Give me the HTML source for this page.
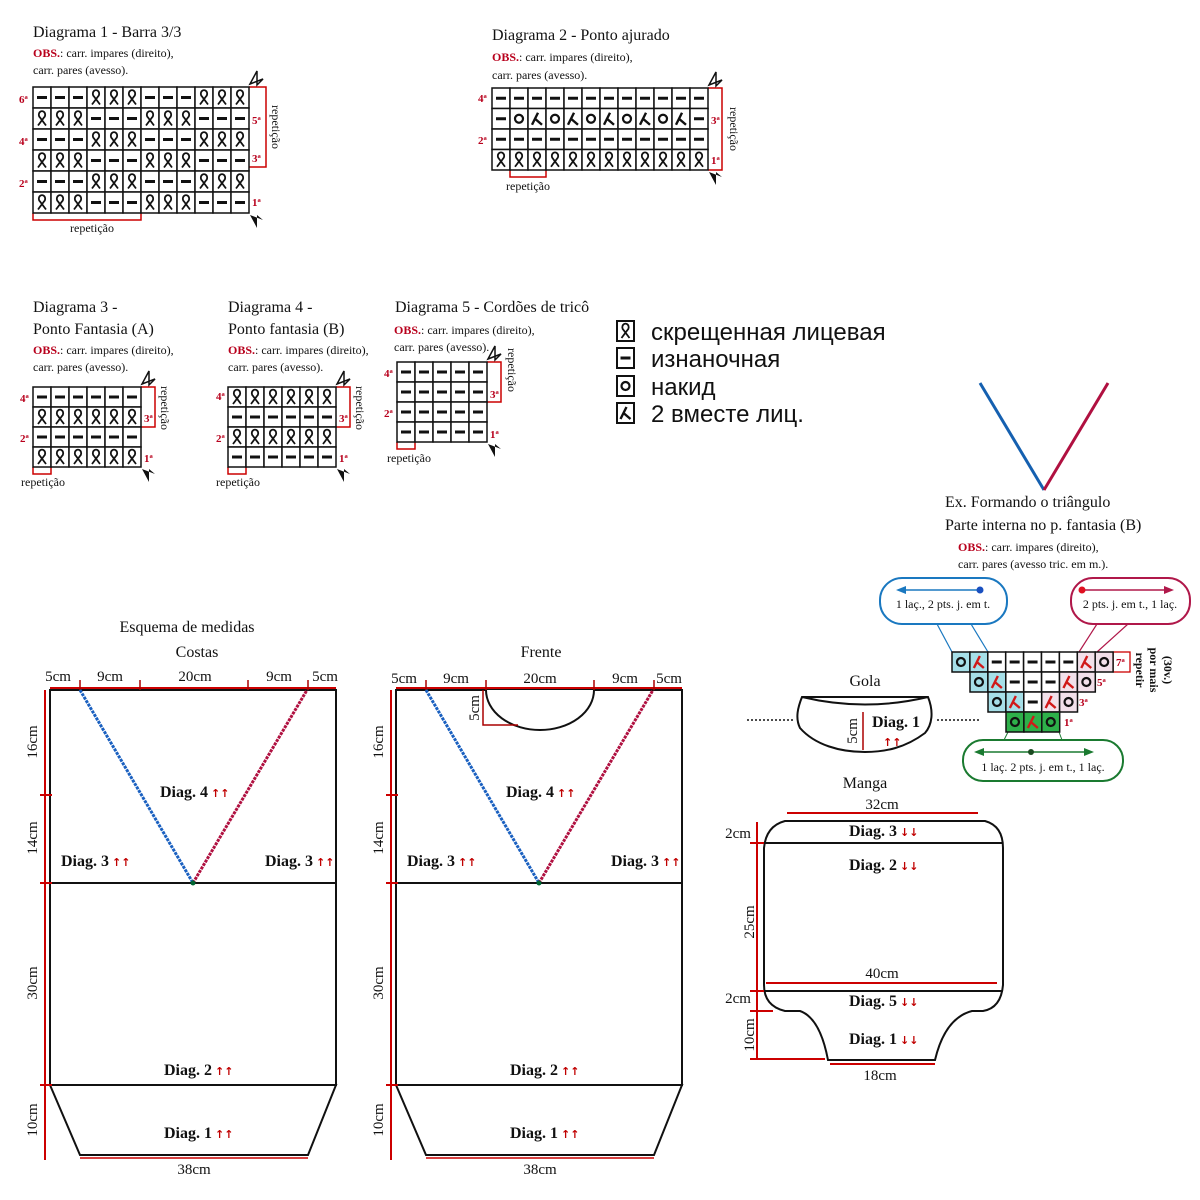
<!DOCTYPE html>
<html><head><meta charset="utf-8"><style>
body{margin:0;background:#fff}
svg{display:block}
text{font-family:"Liberation Serif",serif;fill:#111}
.t{font-size:16px}
.o{font-size:12px}
.r{fill:#b8001c}
.lb{font-size:11px;font-weight:bold;fill:#b8001c}
.d{font-size:16px;font-weight:bold}
.ar{font-family:"DejaVu Sans",sans-serif;font-size:11px;fill:#c00000;font-weight:bold}
.ru{font-family:"Liberation Sans",sans-serif;font-size:24px}
.cm{font-size:15px}
</style></head><body>
<svg id="s" width="1200" height="1200" viewBox="0 0 1200 1200" xmlns="http://www.w3.org/2000/svg">
<text x="33" y="37" class="t">Diagrama 1 - Barra 3/3</text>
<text x="33" y="57" class="o"><tspan class="r" font-weight="bold">OBS.</tspan>: carr. impares (direito),</text>
<text x="33" y="74" class="o">carr. pares (avesso).</text>
<text x="19" y="103" class="lb">6ª</text><text x="19" y="145" class="lb">4ª</text><text x="19" y="187" class="lb">2ª</text>
<text x="252" y="124" class="lb">5ª</text><text x="252" y="162" class="lb">3ª</text><text x="252" y="206" class="lb">1ª</text>
<polyline points="249,87 266,87 266,167 249,167" fill="none" stroke="#c00" stroke-width="1.5"/>
<text transform="translate(272,127) rotate(90)" class="o" text-anchor="middle">repetição</text>
<polyline points="33,213 33,220 141,220 141,213" fill="none" stroke="#c00" stroke-width="1.5"/>
<text x="92" y="232" class="o" text-anchor="middle">repetição</text>

<text x="492" y="40" class="t">Diagrama 2 - Ponto ajurado</text>
<text x="492" y="61" class="o"><tspan class="r" font-weight="bold">OBS.</tspan>: carr. impares (direito),</text>
<text x="492" y="79" class="o">carr. pares (avesso).</text>
<text x="478" y="102" class="lb">4ª</text><text x="478" y="144" class="lb">2ª</text>
<text x="711" y="124" class="lb">3ª</text><text x="711" y="164" class="lb">1ª</text>
<polyline points="708,88 722,88 722,170 708,170" fill="none" stroke="#c00" stroke-width="1.5"/>
<text transform="translate(730,129) rotate(90)" class="o" text-anchor="middle">repetição</text>
<polyline points="510,170 510,177 546,177 546,170" fill="none" stroke="#c00" stroke-width="1.5"/>
<text x="528" y="190" class="o" text-anchor="middle">repetição</text>

<text x="33" y="312" class="t">Diagrama 3 -</text>
<text x="33" y="334" class="t">Ponto Fantasia (A)</text>
<text x="33" y="354" class="o"><tspan class="r" font-weight="bold">OBS.</tspan>: carr. impares (direito),</text>
<text x="33" y="371" class="o">carr. pares (avesso).</text>
<text x="20" y="402" class="lb">4ª</text><text x="20" y="442" class="lb">2ª</text>
<text x="144" y="422" class="lb">3ª</text><text x="144" y="462" class="lb">1ª</text>
<polyline points="141,387 155,387 155,427 141,427" fill="none" stroke="#c00" stroke-width="1.5"/>
<text transform="translate(161,408) rotate(90)" class="o" text-anchor="middle">repetição</text>
<polyline points="33,467 33,474 51,474 51,467" fill="none" stroke="#c00" stroke-width="1.5"/>
<text x="21" y="486" class="o">repetição</text>

<text x="228" y="312" class="t">Diagrama 4 -</text>
<text x="228" y="334" class="t">Ponto fantasia (B)</text>
<text x="228" y="354" class="o"><tspan class="r" font-weight="bold">OBS.</tspan>: carr. impares (direito),</text>
<text x="228" y="371" class="o">carr. pares (avesso).</text>
<text x="216" y="400" class="lb">4ª</text><text x="216" y="442" class="lb">2ª</text>
<text x="339" y="422" class="lb">3ª</text><text x="339" y="462" class="lb">1ª</text>
<polyline points="336,387 350,387 350,427 336,427" fill="none" stroke="#c00" stroke-width="1.5"/>
<text transform="translate(356,408) rotate(90)" class="o" text-anchor="middle">repetição</text>
<polyline points="228,467 228,474 246,474 246,467" fill="none" stroke="#c00" stroke-width="1.5"/>
<text x="216" y="486" class="o">repetição</text>

<text x="395" y="312" class="t">Diagrama 5 - Cordões de tricô</text>
<text x="394" y="334" class="o"><tspan class="r" font-weight="bold">OBS.</tspan>: carr. impares (direito),</text>
<text x="394" y="351" class="o">carr. pares (avesso).</text>
<text x="384" y="377" class="lb">4ª</text><text x="384" y="417" class="lb">2ª</text>
<text x="490" y="398" class="lb">3ª</text><text x="490" y="438" class="lb">1ª</text>
<polyline points="487,362 501,362 501,402 487,402" fill="none" stroke="#c00" stroke-width="1.5"/>
<text transform="translate(508,370) rotate(90)" class="o" text-anchor="middle">repetição</text>
<polyline points="397,442 397,449 415,449 415,442" fill="none" stroke="#c00" stroke-width="1.5"/>
<text x="387" y="462" class="o">repetição</text>

<text x="651" y="340" class="ru">скрещенная лицевая</text>
<text x="651" y="367" class="ru">изнаночная</text>
<text x="651" y="395" class="ru">накид</text>
<text x="651" y="422" class="ru">2 вместе лиц.</text>

<line x1="980" y1="383" x2="1044" y2="490" stroke="#1560b0" stroke-width="3"/>
<line x1="1044" y1="490" x2="1108" y2="383" stroke="#b01040" stroke-width="3"/>
<text x="945" y="507" class="t">Ex. Formando o triângulo</text>
<text x="945" y="530" class="t">Parte interna no p. fantasia (B)</text>
<text x="958" y="551" class="o"><tspan class="r" font-weight="bold">OBS.</tspan>: carr. impares (direito),</text>
<text x="958" y="568" class="o">carr. pares (avesso tric. em m.).</text>

<rect x="880" y="578" width="127" height="46" rx="22" fill="#fff" stroke="#1a78c0" stroke-width="2"/>
<line x1="980" y1="590" x2="900" y2="590" stroke="#1a78c0" stroke-width="1.5"/><polygon points="896,590 906,586 906,594" fill="#1a78c0"/><circle cx="980" cy="590" r="3.5" fill="#1a50c0"/>
<text x="943" y="608" class="o" text-anchor="middle">1 laç., 2 pts. j. em t.</text>
<line x1="937" y1="624" x2="952" y2="652" stroke="#1a78c0" stroke-width="1.2"/><line x1="971" y1="624" x2="988" y2="652" stroke="#1a78c0" stroke-width="1.2"/>
<rect x="1071" y="578" width="119" height="46" rx="22" fill="#fff" stroke="#b0184a" stroke-width="2"/>
<line x1="1082" y1="590" x2="1168" y2="590" stroke="#b0184a" stroke-width="1.5"/><polygon points="1174,590 1164,586 1164,594" fill="#b0184a"/><circle cx="1082" cy="590" r="3.5" fill="#e01020"/>
<text x="1130" y="608" class="o" text-anchor="middle">2 pts. j. em t., 1 laç.</text>
<line x1="1097" y1="624" x2="1079" y2="652" stroke="#b0184a" stroke-width="1.2"/><line x1="1128" y1="624" x2="1097" y2="652" stroke="#b0184a" stroke-width="1.2"/>
<rect x="963" y="740" width="160" height="41" rx="20" fill="#fff" stroke="#1a7a30" stroke-width="2"/>
<line x1="978" y1="752" x2="1090" y2="752" stroke="#1a7a30" stroke-width="1.5"/><polygon points="974,752 984,748 984,756" fill="#1a7a30"/><polygon points="1094,752 1084,748 1084,756" fill="#1a7a30"/><circle cx="1031" cy="752" r="3" fill="#1a4a20"/>
<text x="1043" y="771" class="o" text-anchor="middle">1 laç. 2 pts. j. em t., 1 laç.</text>
<line x1="1008" y1="732" x2="1004" y2="740" stroke="#1a7a30"/><line x1="1059" y1="732" x2="1062" y2="740" stroke="#1a7a30"/>
<rect x="1113" y="652" width="17" height="20" fill="none" stroke="#c00" stroke-width="1.3"/>
<text x="1116" y="666" class="lb">7ª</text><text x="1097" y="686" class="lb">5ª</text><text x="1079" y="706" class="lb">3ª</text><text x="1064" y="726" class="lb">1ª</text>
<text transform="translate(1136,670) rotate(90)" class="o" text-anchor="middle" font-weight="bold">repetir</text>
<text transform="translate(1150,670) rotate(90)" class="o" text-anchor="middle" font-weight="bold">por mais</text>
<text transform="translate(1164,670) rotate(90)" class="o" text-anchor="middle" font-weight="bold">(30v.)</text>

<text x="865" y="686" class="t" text-anchor="middle">Gola</text>
<path d="M802,697 L928,697 C934,712 932,725 925,733 C905,748 885,752 865,752 C840,752 815,745 800,728 C795,718 798,707 802,697 Z" fill="#fff" stroke="#111" stroke-width="2"/>
<path d="M802,697 Q865,712 928,697" fill="none" stroke="#111" stroke-width="2"/>
<line x1="747" y1="720" x2="795" y2="720" stroke="#111" stroke-width="1.5" stroke-dasharray="2,2"/>
<line x1="937" y1="720" x2="980" y2="720" stroke="#111" stroke-width="1.5" stroke-dasharray="2,2"/>
<line x1="863" y1="712" x2="863" y2="750" stroke="#a00" stroke-width="1.5"/>
<text transform="translate(857,731) rotate(-90)" class="cm" text-anchor="middle">5cm</text>
<text x="872" y="727" class="d">Diag. 1</text><text x="883" y="746" class="ar">↑↑</text>

<text x="865" y="788" class="t" text-anchor="middle">Manga</text>
<text x="882" y="809" class="cm" text-anchor="middle">32cm</text>
<line x1="787" y1="813" x2="978" y2="813" stroke="#c00" stroke-width="2"/>
<path d="M785,821 L985,821 Q1003,826 1003,848 L1003,985 Q1001,1008 983,1011 L972,1011 Q945,1018 935,1060 L828,1060 Q820,1018 800,1011 L785,1011 Q764,1006 764,985 L764,848 Q766,826 785,821 Z" fill="#fff" stroke="#111" stroke-width="2"/>
<line x1="764" y1="843" x2="1003" y2="843" stroke="#111" stroke-width="2"/>
<line x1="766" y1="983" x2="997" y2="983" stroke="#c00" stroke-width="2"/>
<line x1="764" y1="991" x2="1003" y2="991" stroke="#111" stroke-width="2"/>
<text x="882" y="978" class="cm" text-anchor="middle">40cm</text>
<line x1="757" y1="822" x2="757" y2="1060" stroke="#c00" stroke-width="2"/>
<line x1="750" y1="843" x2="764" y2="843" stroke="#c00" stroke-width="2"/>
<line x1="750" y1="991" x2="764" y2="991" stroke="#c00" stroke-width="2"/>
<line x1="750" y1="1011" x2="773" y2="1011" stroke="#c00" stroke-width="2"/>
<line x1="750" y1="1059" x2="825" y2="1059" stroke="#c00" stroke-width="2"/>
<line x1="830" y1="1064" x2="935" y2="1064" stroke="#c00" stroke-width="2"/>
<text x="738" y="838" class="cm" text-anchor="middle">2cm</text>
<text x="738" y="1003" class="cm" text-anchor="middle">2cm</text>
<text transform="translate(754,922) rotate(-90)" class="cm" text-anchor="middle">25cm</text>
<text transform="translate(754,1035) rotate(-90)" class="cm" text-anchor="middle">10cm</text>
<text x="880" y="1080" class="cm" text-anchor="middle">18cm</text>
<text x="849" y="836" class="d">Diag. 3</text><text x="900" y="836" class="ar">↓↓</text>
<text x="849" y="870" class="d">Diag. 2</text><text x="900" y="870" class="ar">↓↓</text>
<text x="849" y="1006" class="d">Diag. 5</text><text x="900" y="1006" class="ar">↓↓</text>
<text x="849" y="1044" class="d">Diag. 1</text><text x="900" y="1044" class="ar">↓↓</text>

<text x="187" y="632" class="t" text-anchor="middle">Esquema de medidas</text>
<text x="197" y="657" class="t" text-anchor="middle">Costas</text>
<text x="541" y="657" class="t" text-anchor="middle">Frente</text>

<text x="58" y="681" class="cm" text-anchor="middle">5cm</text>
<text x="110" y="681" class="cm" text-anchor="middle">9cm</text>
<text x="195" y="681" class="cm" text-anchor="middle">20cm</text>
<text x="279" y="681" class="cm" text-anchor="middle">9cm</text>
<text x="325" y="681" class="cm" text-anchor="middle">5cm</text>
<text transform="translate(37,742) rotate(-90)" class="cm" text-anchor="middle">16cm</text>
<text transform="translate(37,838) rotate(-90)" class="cm" text-anchor="middle">14cm</text>
<text transform="translate(37,983) rotate(-90)" class="cm" text-anchor="middle">30cm</text>
<text transform="translate(37,1120) rotate(-90)" class="cm" text-anchor="middle">10cm</text>
<text x="160" y="797" class="d">Diag. 4</text><text x="211" y="797" class="ar">↑↑</text>
<text x="61" y="866" class="d">Diag. 3</text><text x="112" y="866" class="ar">↑↑</text>
<text x="265" y="866" class="d">Diag. 3</text><text x="316" y="866" class="ar">↑↑</text>
<text x="164" y="1075" class="d">Diag. 2</text><text x="215" y="1075" class="ar">↑↑</text>
<text x="164" y="1138" class="d">Diag. 1</text><text x="215" y="1138" class="ar">↑↑</text>
<text x="194" y="1174" class="cm" text-anchor="middle">38cm</text>

<text x="404" y="683" class="cm" text-anchor="middle">5cm</text>
<text x="456" y="683" class="cm" text-anchor="middle">9cm</text>
<text x="540" y="683" class="cm" text-anchor="middle">20cm</text>
<text x="625" y="683" class="cm" text-anchor="middle">9cm</text>
<text x="669" y="683" class="cm" text-anchor="middle">5cm</text>
<text transform="translate(479,708) rotate(-90)" class="cm" text-anchor="middle">5cm</text>
<text transform="translate(383,742) rotate(-90)" class="cm" text-anchor="middle">16cm</text>
<text transform="translate(383,838) rotate(-90)" class="cm" text-anchor="middle">14cm</text>
<text transform="translate(383,983) rotate(-90)" class="cm" text-anchor="middle">30cm</text>
<text transform="translate(383,1120) rotate(-90)" class="cm" text-anchor="middle">10cm</text>
<text x="506" y="797" class="d">Diag. 4</text><text x="557" y="797" class="ar">↑↑</text>
<text x="407" y="866" class="d">Diag. 3</text><text x="458" y="866" class="ar">↑↑</text>
<text x="611" y="866" class="d">Diag. 3</text><text x="662" y="866" class="ar">↑↑</text>
<text x="510" y="1075" class="d">Diag. 2</text><text x="561" y="1075" class="ar">↑↑</text>
<text x="510" y="1138" class="d">Diag. 1</text><text x="561" y="1138" class="ar">↑↑</text>
<text x="540" y="1174" class="cm" text-anchor="middle">38cm</text>
<g id="bodies"></g>
</svg>
<script>
var NS="http://www.w3.org/2000/svg",S=document.getElementById("s");
function el(t,a,p){var e=document.createElementNS(NS,t);for(var k in a)e.setAttribute(k,a[k]);(p||S).appendChild(e);return e;}
function sym(c,cx,cy){
 if(c=="-")el("line",{x1:cx-5,y1:cy,x2:cx+5,y2:cy,stroke:"#111","stroke-width":3});
 else if(c=="K")el("path",{d:"M"+(cx-4)+","+(cy+7)+" L"+(cx+2)+","+(cy-1)+" A3.2,3.6 0 1 0 "+(cx-2)+","+(cy-1)+" L"+(cx+4)+","+(cy+7),fill:"none",stroke:"#111","stroke-width":1.8});
 else if(c=="O")el("circle",{cx:cx,cy:cy,r:4,fill:"none",stroke:"#111","stroke-width":2.2});
 else if(c=="Y"||c=="R"){var s=c=="R"?"#d01818":"#111";el("path",{d:"M"+(cx+1)+","+(cy-6)+" L"+(cx-5)+","+(cy+6)+" M"+(cx-2)+","+(cy)+" L"+(cx+5)+","+(cy+6),fill:"none",stroke:s,"stroke-width":2.4});}
}
function grid(x,y,cw,rh,rows,fills){
 rows.forEach(function(r,i){for(var j=0;j<r.length;j++){if(r[j]==" ")continue;var f=fills&&fills[i]?fills[i][j]:"#fff";
  el("rect",{x:x+j*cw,y:y+i*rh,width:cw,height:rh,fill:f,stroke:"#111","stroke-width":1.5});
  sym(r[j],x+j*cw+cw/2,y+i*rh+rh/2);}});
}
function arrows(xr,yt,yb){
 el("polygon",{points:(xr+1)+","+(yt-3)+" "+(xr+14)+","+(yt-8)+" "+(xr+8)+","+(yt-2)+" "+(xr+8)+","+(yt-16),fill:"#fff",stroke:"#111","stroke-width":1.5});
 el("polygon",{points:(xr+1)+","+(yb+2)+" "+(xr+14)+","+(yb+7)+" "+(xr+8)+","+(yb+2)+" "+(xr+8)+","+(yb+15),fill:"#111"});
}
var a="---KKK---KKK",b="KKK---KKK---";
grid(33,87,18,21,[a,b,a,b,a,b]);arrows(249,87,213);
grid(492,88,18,20.5,["------------","-OYOYOYOYOY-","------------","KKKKKKKKKKKK"]);arrows(708,88,170);
grid(33,387,18,20,["------","KKKKKK","------","KKKKKK"]);arrows(141,387,467);
grid(228,387,18,20,["KKKKKK","------","KKKKKK","------"]);arrows(336,387,467);
grid(397,362,18,20,["-----","-----","-----","-----"]);arrows(487,362,442);
[["K",331],["-",358],["O",386],["Y",413]].forEach(function(p){el("rect",{x:617,y:p[1]-10,width:17,height:20,fill:"#fff",stroke:"#111","stroke-width":2});sym(p[0],625.5,p[1]);});
var B="#a6dfe8",P="#f2e0ea",G="#2eb04a",W="#fff";
grid(952,652,17.9,20,["OR-----RO"],[[B,B,W,W,W,W,W,P,P]]);
grid(970,672,17.9,20,["OR---RO"],[[B,B,W,W,W,P,P]]);
grid(988,692,17.9,20,["OR-RO"],[[B,B,W,P,P]]);
grid(1006,712,17.9,20,["ORO"],[[G,G,G]]);
function body(ox,front){
 var g=document.getElementById("bodies");
 el("rect",{x:ox+50,y:690,width:286,height:395,fill:"none",stroke:"#111","stroke-width":2},g);
 el("line",{x1:ox+50,y1:883,x2:ox+336,y2:883,stroke:"#111","stroke-width":2},g);
 el("polygon",{points:(ox+50)+",1085 "+(ox+336)+",1085 "+(ox+308)+",1155 "+(ox+80)+",1155",fill:"none",stroke:"#111","stroke-width":2},g);
 el("line",{x1:ox+80,y1:1158,x2:ox+308,y2:1158,stroke:"#c00","stroke-width":1.5},g);
 el("line",{x1:ox+50,y1:688,x2:ox+336,y2:688,stroke:"#c00","stroke-width":2},g);
 [80,140,248,308].forEach(function(t){el("line",{x1:ox+t,y1:680,x2:ox+t,y2:690,stroke:"#a00","stroke-width":1.5},g);});
 el("line",{x1:ox+45,y1:690,x2:ox+45,y2:1160,stroke:"#c00","stroke-width":2},g);
 [795,883,1085].forEach(function(t){el("line",{x1:ox+40,y1:t,x2:ox+52,y2:t,stroke:"#c00","stroke-width":2},g);});
 el("line",{x1:ox+80,y1:690,x2:ox+193,y2:883,stroke:"#1a60c0","stroke-width":3,"stroke-dasharray":"3,1"},g);
 el("line",{x1:ox+193,y1:883,x2:ox+307,y2:690,stroke:"#b01040","stroke-width":3,"stroke-dasharray":"3,1"},g);
 el("circle",{cx:ox+193,cy:883,r:2.5,fill:"#063"},g);
 if(front){
  el("path",{d:"M"+(ox+140)+",690 A54,40 0 0 0 "+(ox+248)+",690",fill:"#fff",stroke:"#111","stroke-width":2},g);
  el("polyline",{points:(ox+137)+",690 "+(ox+137)+",725 "+(ox+172)+",725",fill:"none",stroke:"#a00","stroke-width":1.5},g);
 }
}
body(0,false);body(346,true);
</script>
</body></html>
